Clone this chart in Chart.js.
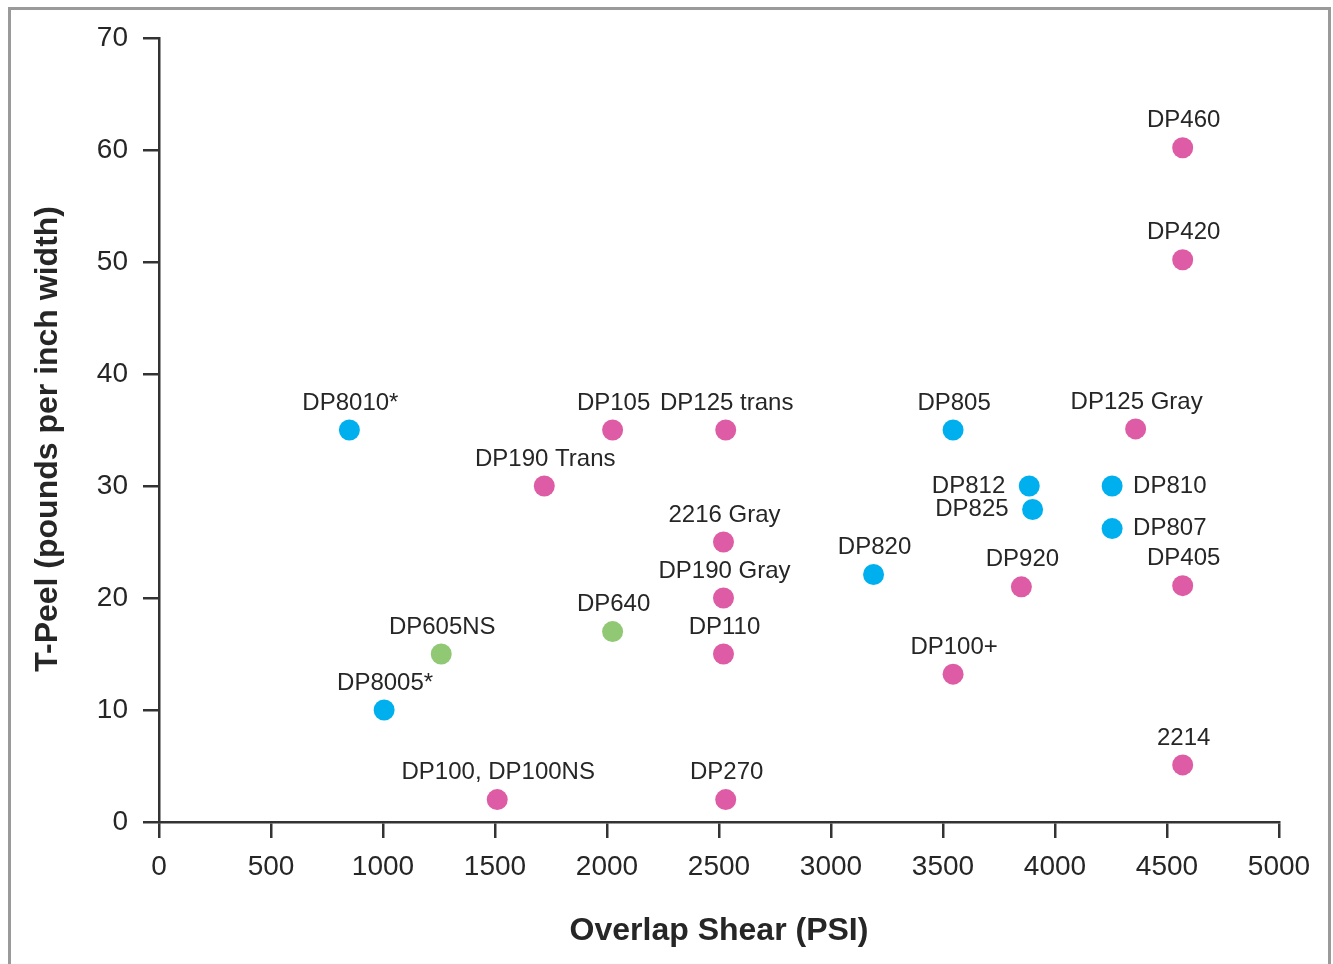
<!DOCTYPE html>
<html>
<head>
<meta charset="utf-8">
<script src="https://cdn.jsdelivr.net/npm/chart.js@4"></script>
<style>
  html, body { margin: 0; padding: 0; background: #fff; }
  #wrap { position: relative; width: 1333px; height: 964px; overflow: hidden; }
  #frame { position: absolute; left: 8px; top: 7px; width: 1323px; height: 1000px; border: 3px solid #9a9a9a; box-sizing: border-box; }
  canvas { position: absolute; left: 0; top: 0; }
</style>
</head>
<body>
<div id="wrap">
  <div id="frame"></div>
  <canvas id="c" width="1333" height="964"></canvas>
</div>
<script>
// ---- Data ----
const pinkNames = ["DP460", "DP420", "DP105", "DP125 trans", "DP125 Gray", "DP190 Trans", "2216 Gray", "DP190 Gray", "DP110", "DP920", "DP405", "DP100+", "DP100, DP100NS", "DP270", "2214"];
const pinkX     = [4570, 4570, 2025, 2530, 4360, 1720, 2520, 2520, 2520, 3850, 4570, 3545, 1510, 2530, 4570];
const pinkY     = [60.2, 50.2, 35, 35, 35.1, 30, 25, 20, 15, 21, 21.1, 13.2, 2, 2, 5.1];

const blueNames = ["DP8010*", "DP805", "DP812", "DP825", "DP810", "DP807", "DP820", "DP8005*"];
const blueX     = [850, 3545, 3885, 3900, 4255, 4255, 3190, 1005];
const blueY     = [35, 35, 30, 27.9, 30, 26.2, 22.1, 10];

const greenNames = ["DP605NS", "DP640"];
const greenX     = [1260, 2025];
const greenY     = [15, 17];

const xTicks = [0, 500, 1000, 1500, 2000, 2500, 3000, 3500, 4000, 4500, 5000];
const yTicks = [0, 10, 20, 30, 40, 50, 60, 70];

// Label placement (style only)
const labelSide = { "DP812": "left", "DP825": "left", "DP810": "right", "DP807": "right" };

const FONT = "'Liberation Sans', Arial, Helvetica, sans-serif";
const AXIS = '#333333';
const TEXT = '#262626';

function toPoints(xs, ys) { return xs.map((x, i) => ({ x: x, y: ys[i] })); }

const pointLabels = {
  id: 'pointLabels',
  afterDatasetsDraw(chart) {
    const ctx = chart.ctx;
    ctx.save();
    ctx.font = "24px " + FONT;
    ctx.fillStyle = TEXT;
    ctx.textBaseline = 'middle';
    chart.data.datasets.forEach((ds, di) => {
      const meta = chart.getDatasetMeta(di);
      meta.data.forEach((el, i) => {
        const name = ds.names[i];
        const side = labelSide[name] || 'top';
        if (side === 'left') {
          ctx.textAlign = 'right';
          ctx.fillText(name, el.x - 24, el.y);
        } else if (side === 'right') {
          ctx.textAlign = 'left';
          ctx.fillText(name, el.x + 21, el.y);
        } else {
          ctx.textAlign = 'center';
          ctx.fillText(name, el.x + 1, el.y - 27);
        }
      });
    });
    ctx.restore();
  }
};

new Chart(document.getElementById('c'), {
  type: 'scatter',
  data: {
    datasets: [
      { names: pinkNames, data: toPoints(pinkX, pinkY), backgroundColor: '#dd5ca5', borderWidth: 0, pointRadius: 10.5, pointHoverRadius: 10.5 },
      { names: blueNames, data: toPoints(blueX, blueY), backgroundColor: '#00b0ee', borderWidth: 0, pointRadius: 10.5, pointHoverRadius: 10.5 },
      { names: greenNames, data: toPoints(greenX, greenY), backgroundColor: '#90c874', borderWidth: 0, pointRadius: 10.5, pointHoverRadius: 10.5 }
    ]
  },
  options: {
    responsive: false,
    animation: false,
    devicePixelRatio: 1,
    layout: { padding: { top: 38, right: 54, left: 0, bottom: 0 } },
    plugins: { legend: { display: false }, tooltip: { enabled: false } },
    scales: {
      x: {
        type: 'linear',
        min: xTicks[0], max: xTicks[xTicks.length - 1],
        afterBuildTicks: (s) => { s.ticks = xTicks.map(v => ({ value: v })); },
        afterFit: (s) => { s.height = 142; },
        grid: { drawOnChartArea: false, drawTicks: true, tickLength: 16, color: AXIS, lineWidth: 2.5 },
        border: { display: true, color: AXIS, width: 2.5 },
        ticks: { color: TEXT, font: { family: FONT, size: 28 }, padding: 12, maxRotation: 0, callback: (v) => String(v) },
        title: { display: true, text: 'Overlap Shear (PSI)', color: TEXT, font: { family: FONT, size: 32, weight: 'bold' }, padding: { top: 0, bottom: 14 } }
      },
      y: {
        type: 'linear',
        min: yTicks[0], max: yTicks[yTicks.length - 1],
        afterBuildTicks: (s) => { s.ticks = yTicks.map(v => ({ value: v })); },
        afterFit: (s) => { s.width = 159; },
        grid: { drawOnChartArea: false, drawTicks: true, tickLength: 16, color: AXIS, lineWidth: 2.5 },
        border: { display: true, color: AXIS, width: 2.5 },
        ticks: { color: TEXT, font: { family: FONT, size: 28 }, padding: 15, callback: (v) => String(v) },
        title: { display: true, text: 'T-Peel (pounds per inch width)\u00a0\u00a0', color: TEXT, font: { family: FONT, size: 32, weight: 'bold' }, padding: { top: 29, bottom: 0 } }
      }
    }
  },
  plugins: [pointLabels]
});
</script>
</body>
</html>
